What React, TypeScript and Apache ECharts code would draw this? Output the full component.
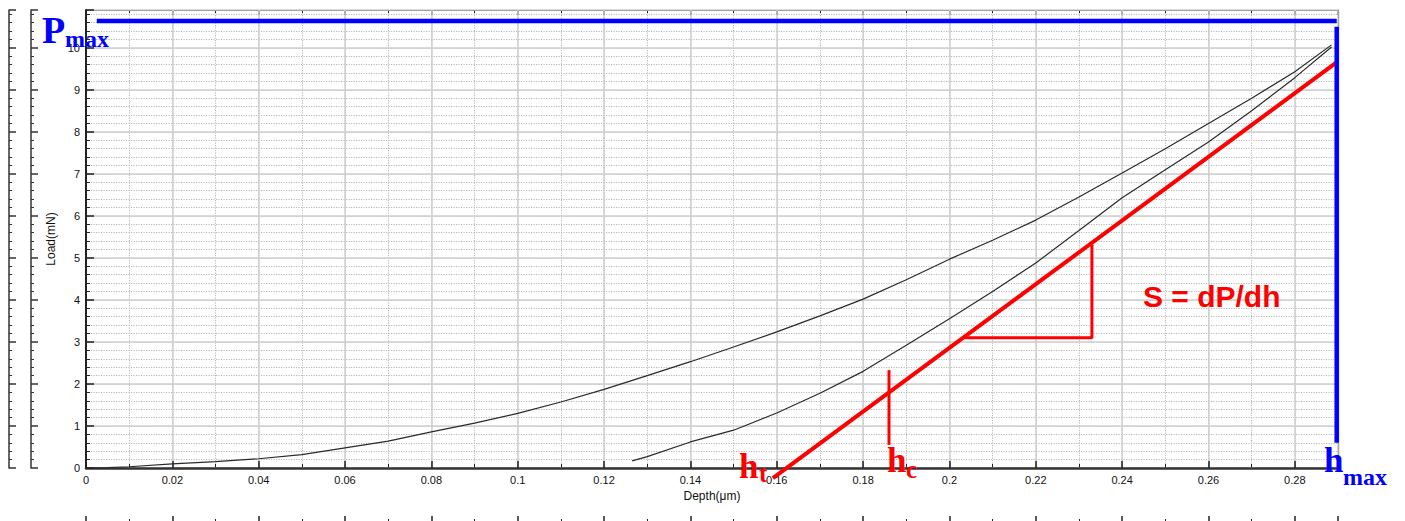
import React, { useEffect, useRef } from "react";
import * as echarts from "echarts";

// Loading curve (depth µm, load mN)
const loadDepth = [0, 0.005, 0.01, 0.02, 0.03, 0.04, 0.05, 0.06, 0.07, 0.08, 0.09, 0.1, 0.11, 0.12, 0.13, 0.14, 0.15, 0.16, 0.17, 0.18, 0.19, 0.2, 0.21, 0.22, 0.23, 0.24, 0.25, 0.26, 0.27, 0.28, 0.2885];
const loadForce = [0, 0.01, 0.03, 0.1, 0.15, 0.22, 0.32, 0.48, 0.64, 0.86, 1.07, 1.3, 1.57, 1.87, 2.2, 2.53, 2.88, 3.24, 3.62, 4.02, 4.48, 4.97, 5.42, 5.9, 6.45, 7.02, 7.6, 8.2, 8.8, 9.43, 10.07];

// Unloading curve
const unloadDepth = [0.1265, 0.13, 0.14, 0.15, 0.16, 0.17, 0.18, 0.19, 0.2, 0.21, 0.22, 0.23, 0.24, 0.25, 0.26, 0.27, 0.28, 0.2885];
const unloadForce = [0.17, 0.27, 0.62, 0.9, 1.31, 1.78, 2.3, 2.92, 3.55, 4.2, 4.88, 5.65, 6.43, 7.1, 7.76, 8.5, 9.29, 10.02];

// Annotation geometry (data coordinates)
const tangentLine = [[0.1591, -0.24], [0.2895, 9.64]];
const slopeTriangle = [[0.2036, 3.1], [0.233, 3.1], [0.233, 5.31]];
const hcMarker = [[0.186, 2.33], [0.186, 0.55]];
const pmaxLine = [[0.0025, 10.64], [0.2897, 10.64]];
const hmaxLine = [[0.2897, 10.5], [0.2897, 0.6]];

const X_MIN = 0;
const X_MAX = 0.29;
const Y_MIN = 0;
const Y_MAX = 10.9;

const SANS = "Arial, 'Liberation Sans', sans-serif";
const SERIF = "'Liberation Serif', 'Times New Roman', serif";

function zip(a: number[], b: number[]) {
  return a.map((v, i) => [v, b[i]]);
}

export default function App() {
  const ref = useRef<HTMLDivElement>(null);

  useEffect(() => {
    const chart = echarts.init(ref.current!, null, { renderer: "svg" });
    const xFmt = (v: number) => {
      const k = v / 0.02;
      return Math.abs(k - Math.round(k)) < 1e-6 ? String(+v.toFixed(2)) : "";
    };
    const yFmt = (v: number) => (Math.abs(v - Math.round(v)) < 1e-6 ? String(Math.round(v)) : "");
    const xBase = { type: "value", min: X_MIN, max: X_MAX };
    const yBase = { type: "value", min: Y_MIN, max: Y_MAX };
    const dark = "#222";
    const majorGrid = { show: true, lineStyle: { color: "#cfcfcf", width: 1.5 } };
    const minorGrid = { show: true, lineStyle: { color: "#b8b8b8", width: 1, type: [1.2, 1.3] } };

    const lineSeries = (data: number[][], color: string, width: number, z: number) => ({
      type: "line",
      data,
      showSymbol: false,
      symbol: "none",
      clip: false,
      z,
      lineStyle: { color, width, cap: "butt" },
      xAxisIndex: 0,
      yAxisIndex: 0,
    });

    const txt = (text: string, x: number, y: number, fill: string, font: string) => ({
      type: "text",
      z: 100,
      x,
      y,
      style: { text, fill, font, verticalAlign: "middle", align: "left" },
    });

    const option: any = {
      animation: false,
      backgroundColor: "#fff",
      grid: { left: 86, right: 67, top: 10, bottom: 53 },
      xAxis: [
        {
          ...xBase,
          position: "bottom",
          interval: 0.02,
          axisLine: { show: true, onZero: false, lineStyle: { color: "#333", width: 2.5 } },
          axisTick: { show: true, inside: true, length: 7, lineStyle: { color: dark, width: 1.5 } },
          axisLabel: { formatter: xFmt, fontSize: 11, color: "#111", margin: 6, fontFamily: SANS },
          splitLine: majorGrid,
          name: "Depth(μm)",
          nameLocation: "middle",
          nameGap: 19,
          nameTextStyle: { fontSize: 12, color: "#111", fontFamily: SANS },
          z: 3,
        },
        {
          ...xBase,
          position: "bottom",
          interval: 0.01,
          axisLine: { show: false, onZero: false },
          axisTick: { show: true, inside: true, length: 4, lineStyle: { color: dark, width: 1 } },
          axisLabel: { show: false },
          splitLine: minorGrid,
        },
        {
          ...xBase,
          position: "top",
          interval: 0.02,
          axisLine: { show: true, onZero: false, lineStyle: { color: dark, width: 1.2 } },
          axisTick: { show: true, inside: true, length: 5, lineStyle: { color: dark, width: 1.5 } },
          minorTick: { show: true, splitNumber: 2, length: 3, lineStyle: { color: dark } },
          axisLabel: { show: false },
          splitLine: { show: false },
        },
        {
          ...xBase,
          position: "bottom",
          offset: 53,
          interval: 0.02,
          axisLine: { show: false, onZero: false },
          axisTick: { show: true, inside: true, length: 5, lineStyle: { color: dark, width: 1.5 } },
          minorTick: { show: true, splitNumber: 2, length: 2, lineStyle: { color: dark } },
          axisLabel: { show: false },
          splitLine: { show: false },
        },
      ],
      yAxis: [
        {
          ...yBase,
          position: "left",
          interval: 1,
          axisLine: { show: true, onZero: false, lineStyle: { color: dark, width: 2 } },
          axisTick: { show: true, inside: true, length: 8, lineStyle: { color: dark, width: 1.5 } },
          axisLabel: { formatter: yFmt, fontSize: 11, color: "#111", margin: 6, fontFamily: SANS },
          splitLine: majorGrid,
          name: "Load(mN)",
          nameLocation: "middle",
          nameGap: 22,
          nameTextStyle: { fontSize: 12, color: "#111", fontFamily: SANS },
          z: 3,
        },
        {
          ...yBase,
          position: "left",
          interval: 0.2,
          axisLine: { show: false, onZero: false },
          axisTick: { show: true, inside: true, length: 4, lineStyle: { color: dark, width: 1 } },
          axisLabel: { show: false },
          splitLine: minorGrid,
        },
        {
          ...yBase,
          position: "right",
          interval: 1,
          axisLine: { show: true, onZero: false, lineStyle: { color: dark, width: 1.2 } },
          axisTick: { show: true, inside: true, length: 4, lineStyle: { color: dark } },
          axisLabel: { show: false },
          splitLine: { show: false },
        },
        {
          ...yBase,
          position: "left",
          offset: 77,
          interval: 1,
          axisLine: { show: true, onZero: false, lineStyle: { color: "#333", width: 1.5 } },
          axisTick: { show: true, inside: true, length: 7, lineStyle: { color: "#333", width: 1.5 } },
          minorTick: { show: true, splitNumber: 5, length: 3, lineStyle: { color: "#333", width: 1 } },
          axisLabel: { show: false },
          splitLine: { show: false },
        },
        {
          ...yBase,
          position: "left",
          offset: 55,
          interval: 1,
          axisLine: { show: true, onZero: false, lineStyle: { color: "#333", width: 1.5 } },
          axisTick: { show: true, inside: true, length: 7, lineStyle: { color: "#333", width: 1.5 } },
          minorTick: { show: true, splitNumber: 5, length: 3, lineStyle: { color: "#333", width: 1 } },
          axisLabel: { show: false },
          splitLine: { show: false },
        },
      ],
      series: [
        lineSeries(zip(loadDepth, loadForce), "#2a2a2a", 1.2, 4),
        lineSeries(zip(unloadDepth, unloadForce), "#2a2a2a", 1.2, 4),
        lineSeries(tangentLine, "#ff0000", 4, 6),
        lineSeries(slopeTriangle, "#ff0000", 3, 6),
        lineSeries(hcMarker, "#ff0000", 3, 6),
        lineSeries(pmaxLine, "#0000ff", 4.5, 7),
        lineSeries(hmaxLine, "#0000ff", 4.5, 7),
      ],
      graphic: [
        txt("P", 42, 29.5, "#0000ff", `bold 38px ${SERIF}`),
        txt("max", 65, 39, "#0000ff", `bold 24px ${SERIF}`),
        txt("h", 1324, 460, "#0000ff", `bold 35px ${SERIF}`),
        txt("max", 1343, 477, "#0000ff", `bold 24px ${SERIF}`),
        txt("h", 739, 466, "#ff0000", `bold 35px ${SERIF}`),
        txt("t", 759, 473.5, "#ff0000", `bold 25px ${SERIF}`),
        txt("h", 887, 460, "#ff0000", `bold 35px ${SERIF}`),
        txt("c", 906, 469.5, "#ff0000", `bold 25px ${SERIF}`),
        txt("S = dP/dh", 1143, 296.5, "#ff0000", `bold 30px ${SANS}`),
      ],
    };
    chart.setOption(option);
    return () => chart.dispose();
  }, []);

  return (
    <div
      ref={ref}
      style={{ position: "fixed", left: 0, top: 0, width: 1405, height: 521, background: "#fff" }}
    />
  );
}
